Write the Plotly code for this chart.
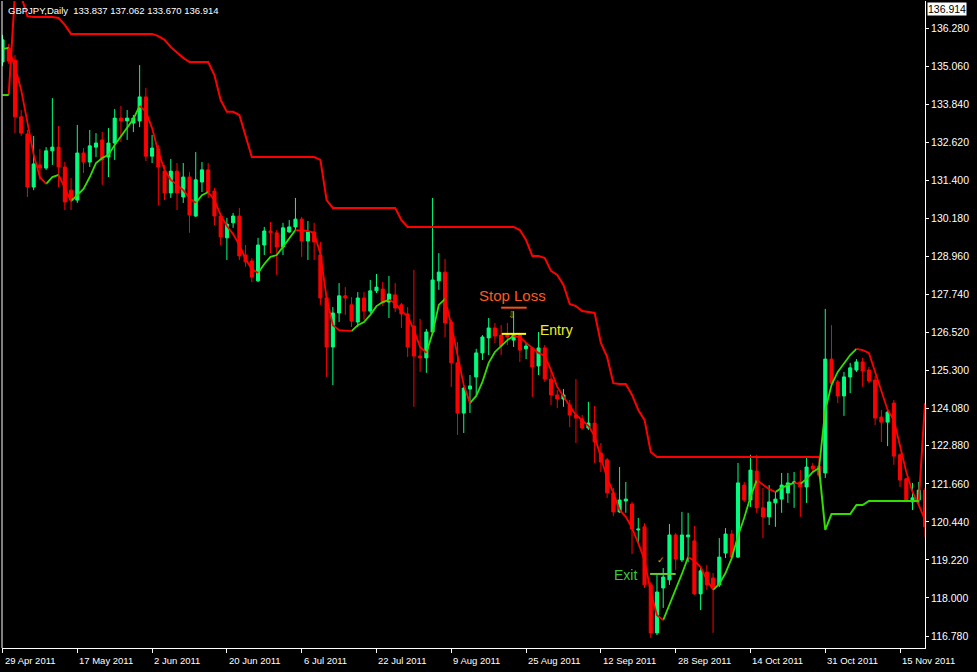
import plotly.graph_objects as go

# GBPJPY daily candles, bar by bar (29 Apr 2011 .. 18 Nov 2011)
opens = [135.19, 135.64, 135.25, 133.43, 132.88, 131.18, 131.89, 131.79, 132.34, 132.46,
         131.82, 131.08, 130.76, 132.27, 131.98, 132.46, 132.69, 132.14, 132.59, 133.39,
         133.30, 133.23, 133.30, 134.07, 132.17, 132.40, 131.69, 130.99, 131.69, 130.86,
         131.50, 130.25, 131.34, 131.73, 131.05, 130.25, 129.55, 130.03, 130.25, 129.00,
         128.81, 128.17, 129.32, 129.77, 129.71, 129.26, 129.74, 129.90, 130.15, 129.45,
         129.74, 129.00, 127.62, 126.05, 127.14, 127.69, 127.40, 126.85, 127.62, 127.20,
         127.85, 127.91, 127.49, 127.72, 127.40, 127.11, 126.72, 125.76, 125.70, 126.53,
         128.17, 128.45, 126.85, 125.54, 123.93, 124.70, 125.09, 125.86, 126.34, 126.66,
         126.43, 126.43, 126.27, 126.43, 125.99, 126.02, 125.44, 126.02, 125.02, 124.51,
         124.38, 124.19, 123.87, 123.74, 123.45, 123.61, 122.65, 122.43, 121.37, 120.76,
         121.11, 121.01, 120.18, 120.28, 118.42, 116.88, 118.32, 118.58, 120.02, 119.22,
         119.96, 119.83, 118.13, 118.83, 118.64, 118.42, 119.44, 120.05, 119.31, 121.62,
         121.14, 122.07, 120.89, 120.60, 121.05, 121.17, 121.37, 121.69, 121.72, 121.56,
         122.23, 122.23, 122.01, 125.66, 124.93, 124.48, 125.09, 125.31, 125.57, 125.31,
         124.99, 123.80, 123.64, 124.25, 122.59, 121.82, 121.08, 121.14, 121.46]
highs = [136.06, 135.77, 135.41, 133.65, 133.01, 132.82, 132.40, 132.46, 134.03, 133.14,
         131.98, 131.47, 133.17, 132.43, 133.01, 132.91, 132.94, 133.07, 133.68, 133.78,
         133.65, 133.49, 135.09, 134.36, 132.85, 132.53, 131.89, 132.08, 131.95, 131.95,
         131.66, 132.30, 131.98, 131.95, 131.15, 130.35, 130.19, 130.35, 130.51, 129.32,
         128.90, 129.55, 129.90, 130.06, 129.80, 130.03, 130.12, 130.83, 130.22, 130.09,
         130.03, 129.42, 127.78, 127.33, 128.10, 127.97, 127.65, 127.81, 127.81, 128.20,
         128.39, 128.13, 128.33, 128.10, 127.46, 127.33, 128.52, 126.95, 126.63, 130.83,
         129.06, 128.87, 126.92, 126.21, 124.77, 125.15, 125.99, 126.43, 126.98, 126.82,
         126.75, 126.82, 127.20, 126.50, 126.18, 126.05, 126.53, 126.11, 125.31, 124.67,
         124.70, 124.35, 125.02, 123.87, 124.29, 124.16, 122.97, 122.49, 121.53, 122.20,
         121.72, 121.08, 120.57, 120.40, 118.51, 118.74, 118.96, 120.37, 120.08, 120.76,
         120.73, 120.31, 118.99, 119.06, 118.80, 119.92, 120.24, 120.18, 122.33, 121.72,
         122.59, 122.59, 121.53, 121.62, 121.40, 122.01, 122.01, 122.04, 122.10, 122.49,
         122.33, 122.52, 127.27, 126.75, 124.99, 125.25, 125.54, 125.66, 125.70, 125.41,
         125.12, 124.03, 124.03, 124.35, 122.65, 121.85, 121.69, 121.72, 121.53]
lows = [135.06, 135.13, 132.91, 132.82, 130.86, 131.08, 131.41, 131.73, 131.89, 131.18,
        130.44, 130.44, 130.67, 131.63, 131.82, 132.14, 131.25, 131.50, 132.05, 132.62,
        132.69, 132.94, 133.10, 132.01, 131.95, 130.60, 130.76, 130.83, 130.44, 130.67,
        129.71, 130.22, 131.02, 130.83, 129.96, 129.32, 128.84, 129.87, 128.84, 128.62,
        128.13, 128.13, 129.00, 129.06, 128.36, 129.00, 129.71, 129.80, 128.94, 128.84,
        128.84, 127.40, 125.09, 124.83, 126.85, 127.08, 126.69, 126.69, 126.92, 127.14,
        127.78, 127.36, 126.98, 127.17, 126.66, 125.73, 124.13, 125.25, 125.22, 126.50,
        127.88, 126.37, 124.77, 123.23, 123.29, 123.93, 124.51, 125.63, 125.79, 126.18,
        125.79, 126.11, 126.05, 125.57, 125.66, 124.45, 125.15, 124.93, 124.19, 124.09,
        124.13, 123.48, 122.97, 123.39, 123.39, 122.33, 122.04, 121.21, 120.63, 120.73,
        120.73, 119.41, 119.76, 118.32, 116.72, 116.81, 117.68, 118.42, 118.90, 119.15,
        119.15, 118.10, 117.61, 118.26, 116.88, 118.35, 119.28, 119.19, 119.28, 121.08,
        120.92, 120.73, 119.92, 120.34, 120.28, 120.73, 121.05, 120.89, 120.60, 121.05,
        122.01, 121.88, 121.85, 124.83, 124.25, 123.84, 124.57, 125.25, 124.77, 124.89,
        123.55, 123.00, 122.87, 122.27, 121.56, 121.08, 120.82, 120.98, 119.96]
closes = [135.90, 135.22, 133.43, 132.91, 131.18, 131.92, 131.79, 132.34, 132.46, 131.82,
          130.70, 130.76, 132.27, 131.98, 132.50, 132.59, 132.05, 132.59, 133.39, 133.30,
          133.39, 133.39, 134.07, 132.17, 132.43, 131.82, 130.99, 131.69, 130.99, 131.50,
          130.28, 131.41, 131.73, 131.02, 130.25, 129.58, 129.99, 130.25, 128.97, 128.78,
          128.29, 129.32, 129.77, 129.71, 129.26, 129.87, 129.90, 130.15, 129.45, 129.74,
          129.42, 127.62, 126.05, 127.14, 127.69, 127.62, 126.88, 127.62, 127.20, 127.85,
          127.97, 127.46, 127.75, 127.30, 127.11, 126.05, 125.76, 125.70, 126.53, 128.20,
          128.45, 126.82, 125.54, 123.93, 124.73, 124.80, 125.86, 126.37, 126.66, 126.40,
          126.08, 126.37, 126.43, 125.95, 126.08, 125.41, 126.02, 125.02, 124.51, 124.38,
          124.51, 123.87, 123.77, 123.45, 123.61, 123.00, 122.36, 121.37, 120.76, 121.14,
          121.17, 120.21, 120.21, 118.42, 116.88, 118.19, 118.67, 120.02, 119.25, 120.02,
          120.02, 118.13, 118.87, 118.42, 118.35, 119.31, 120.05, 119.31, 121.69, 121.14,
          122.10, 120.89, 120.60, 121.08, 121.17, 121.62, 121.69, 121.72, 121.56, 122.20,
          122.14, 121.94, 125.66, 124.89, 124.48, 125.09, 125.38, 125.57, 125.28, 124.96,
          123.77, 123.64, 123.96, 122.55, 121.78, 121.14, 121.21, 121.46, 120.28]

# fast trend line (coloured by direction)
fast_line = [135.61, 135.64, 135.03, 134.29, 133.23, 132.21, 131.50, 131.28, 131.50, 131.57,
             131.15, 130.73, 130.92, 131.12, 131.50, 131.95, 132.11, 132.21, 132.53, 132.82,
             133.10, 133.36, 133.78, 133.59, 133.07, 132.30, 131.73, 131.41, 131.25, 131.08,
             130.83, 130.67, 130.92, 131.02, 130.76, 130.28, 129.93, 129.67, 129.32, 128.87,
             128.55, 128.42, 128.71, 128.94, 129.00, 129.26, 129.55, 129.80, 129.79, 129.77,
             129.71, 129.03, 127.62, 126.75, 126.59, 126.58, 126.56, 126.75, 126.85, 127.08,
             127.36, 127.49, 127.56, 127.46, 127.20, 127.04, 126.59, 126.05, 125.86, 126.50,
             127.40, 127.59, 126.75, 125.79, 124.83, 124.25, 124.48, 124.93, 125.54, 125.89,
             126.08, 126.27, 126.40, 126.37, 126.18, 126.02, 125.86, 125.76, 125.31, 124.77,
             124.45, 124.16, 123.87, 123.68, 123.52, 123.19, 122.49, 121.85, 121.37, 120.82,
             120.60, 120.24, 119.76, 119.22, 118.19, 117.45, 117.29, 117.77, 118.26, 118.77,
             119.31, 119.19, 118.99, 118.58, 118.26, 118.45, 118.80, 119.28, 119.99, 120.57,
             121.24, 121.78, 121.62, 121.49, 121.40, 121.53, 121.62, 121.69, 121.66, 121.82,
             122.04, 122.17, 124.03, 124.83, 125.25, 125.54, 125.79, 125.99, 125.95, 125.86,
             125.25, 124.57, 124.03, 123.71, 122.91, 122.04, 121.40, 120.98, 120.50]

# trailing stop: upper (red) while trend is down, lower (green) while trend is up
N = None
stop_up = ([N, 134.13, 137.40, 137.30, 136.66, 136.63, 136.63, 136.63, 136.63, 136.60, 136.38]
           + [136.09] * 14
           + [136.02, 135.90, 135.67, 135.48, 135.32, 135.19, 135.19, 135.19, 135.19,
              134.77, 133.97, 133.59, 133.59, 133.49, 132.85]
           + [132.14] * 11
           + [132.05, 130.76] + [130.51] * 11 + [130.12]
           + [129.90] * 18
           + [129.80, 129.48, 128.97, 128.97, 128.90, 128.49, 128.36, 128.04, 127.43, 127.36,
              127.20, 127.17, 127.14, 126.18, 125.73, 124.89, 124.86, 124.86, 124.51, 124.03,
              123.71, 122.68]
           + [122.52] * 27
           + [N] * 15 + [121.11, 124.25])
stop_dn = ([134.13, 134.13] + [N] * 129
           + [122.17, 120.18, 120.69, 120.69, 120.69, 120.69, 120.98, 120.98]
           + [121.11] * 9 + [N])

date_labels = ["29 Apr 2011", "17 May 2011", "2 Jun 2011", "20 Jun 2011", "6 Jul 2011",
               "22 Jul 2011", "9 Aug 2011", "25 Aug 2011", "12 Sep 2011", "28 Sep 2011",
               "14 Oct 2011", "31 Oct 2011", "15 Nov 2011"]
price_labels = ["136.280", "135.060", "133.840", "132.620", "131.400", "130.180", "128.960",
                "127.740", "126.520", "125.300", "124.080", "122.880", "121.660", "120.440",
                "119.220", "118.000", "116.780"]

UP = "#00FF7F"
DOWN = "#FF0000"
LINE_GREEN = "#33DD00"

bars = list(range(len(opens)))
label_pos = [12 * k for k in range(len(date_labels))]


def split_by_direction(vals):
    # cut the series into runs, green while rising, red while falling
    runs = {"g": ([], []), "r": ([], [])}
    cur, xs, ys = None, [], []
    for i in range(1, len(vals)):
        c = "g" if vals[i] > vals[i - 1] else "r"
        if c != cur:
            if cur:
                runs[cur][0].extend(xs + [None])
                runs[cur][1].extend(ys + [None])
            cur, xs, ys = c, [i - 1], [vals[i - 1]]
        xs.append(i)
        ys.append(vals[i])
    runs[cur][0].extend(xs)
    runs[cur][1].extend(ys)
    return runs


fig = go.Figure()
fig.add_trace(go.Candlestick(
    x=bars, open=opens, high=highs, low=lows, close=closes,
    increasing=dict(line=dict(color=UP, width=1), fillcolor=UP),
    decreasing=dict(line=dict(color=DOWN, width=1), fillcolor=DOWN),
    whiskerwidth=0, showlegend=False, hoverinfo="skip"))

runs = split_by_direction(fast_line)
fig.add_trace(go.Scatter(x=runs["g"][0], y=runs["g"][1], mode="lines",
                         line=dict(color=LINE_GREEN, width=1.8), showlegend=False))
fig.add_trace(go.Scatter(x=runs["r"][0], y=runs["r"][1], mode="lines",
                         line=dict(color=DOWN, width=1.8), showlegend=False))
fig.add_trace(go.Scatter(x=bars, y=stop_up, mode="lines", connectgaps=False,
                         line=dict(color=DOWN, width=2), showlegend=False))
fig.add_trace(go.Scatter(x=bars, y=stop_dn, mode="lines", connectgaps=False,
                         line=dict(color=LINE_GREEN, width=2), showlegend=False))

# trade marks
fig.add_shape(type="line", x0=80.0, x1=84.1, y0=127.31, y1=127.31,
              line=dict(color="#F0501E", width=2))
fig.add_shape(type="line", x0=80.1, x1=84.0, y0=126.47, y1=126.47,
              line=dict(color="#FFFF00", width=2))
fig.add_shape(type="line", x0=103.9, x1=108.0, y0=118.77, y1=118.77,
              line=dict(color="#66CC33", width=2))
fig.add_shape(type="line", xref="paper", yref="paper", x0=0, x1=0, y0=0, y1=1,
              line=dict(color="#FFFFFF", width=1))

ann = [
    dict(x=81.9, y=127.69, text="Stop Loss", font=dict(color="#FF5A1E", size=15)),
    dict(x=81.7, y=127.08, text="⇩", font=dict(color="#C89B00", size=9)),
    dict(x=88.9, y=126.59, text="Entry", font=dict(color="#F0F020", size=14)),
    dict(x=99.9, y=118.74, text="Exit", font=dict(color="#3CC83C", size=14)),
    dict(x=105.6, y=119.22, text="✓", font=dict(color="#E0A000", size=9)),
]
for a in ann:
    fig.add_annotation(xref="x", yref="y", showarrow=False, **a)

for pos, lab in zip(label_pos, date_labels):
    fig.add_annotation(x=pos, y=0, xref="x", yref="paper", text=lab, showarrow=False,
                       xanchor="left", yanchor="top", yshift=-5,
                       font=dict(color="#FFFFFF", size=9.5))

fig.add_annotation(x=0, y=1, xref="paper", yref="paper", showarrow=False,
                   xanchor="left", yanchor="top", xshift=4, yshift=-2,
                   text="GBPJPY,Daily\u00a0 133.837 137.062 133.670 136.914",
                   font=dict(color="#FFFFFF", size=9.5))
fig.add_annotation(x=1, y=1, xref="paper", yref="paper", showarrow=False,
                   xanchor="left", yanchor="top", xshift=2, yshift=-1,
                   text="136.914", bgcolor="#FFFFFF", borderpad=0,
                   font=dict(color="#000000", size=10.5))

fig.update_layout(
    width=977, height=672,
    margin=dict(l=2, r=52, t=1, b=24),
    paper_bgcolor="#000000", plot_bgcolor="#000000",
    font=dict(family="Liberation Sans, Arial, sans-serif", color="#FFFFFF"),
    showlegend=False,
    xaxis=dict(range=[-0.08, 148.0], rangeslider=dict(visible=False),
               tickvals=label_pos, showticklabels=False, ticks="outside",
               ticklen=4, tickcolor="#FFFFFF", showline=True, linecolor="#FFFFFF",
               showgrid=False, zeroline=False),
    yaxis=dict(range=[116.395, 137.146], side="right",
               tickvals=[float(t) for t in price_labels], ticktext=price_labels,
               ticks="outside", ticklen=3, tickcolor="#FFFFFF",
               tickfont=dict(size=10.5, color="#FFFFFF"),
               showline=True, linecolor="#FFFFFF", showgrid=False, zeroline=False),
)

# page margin would shift the chart inside the window
fig.write_html("out.html", config={"displayModeBar": False},
               post_script="document.body.style.margin='0';"
                           "document.body.style.background='#000';")
